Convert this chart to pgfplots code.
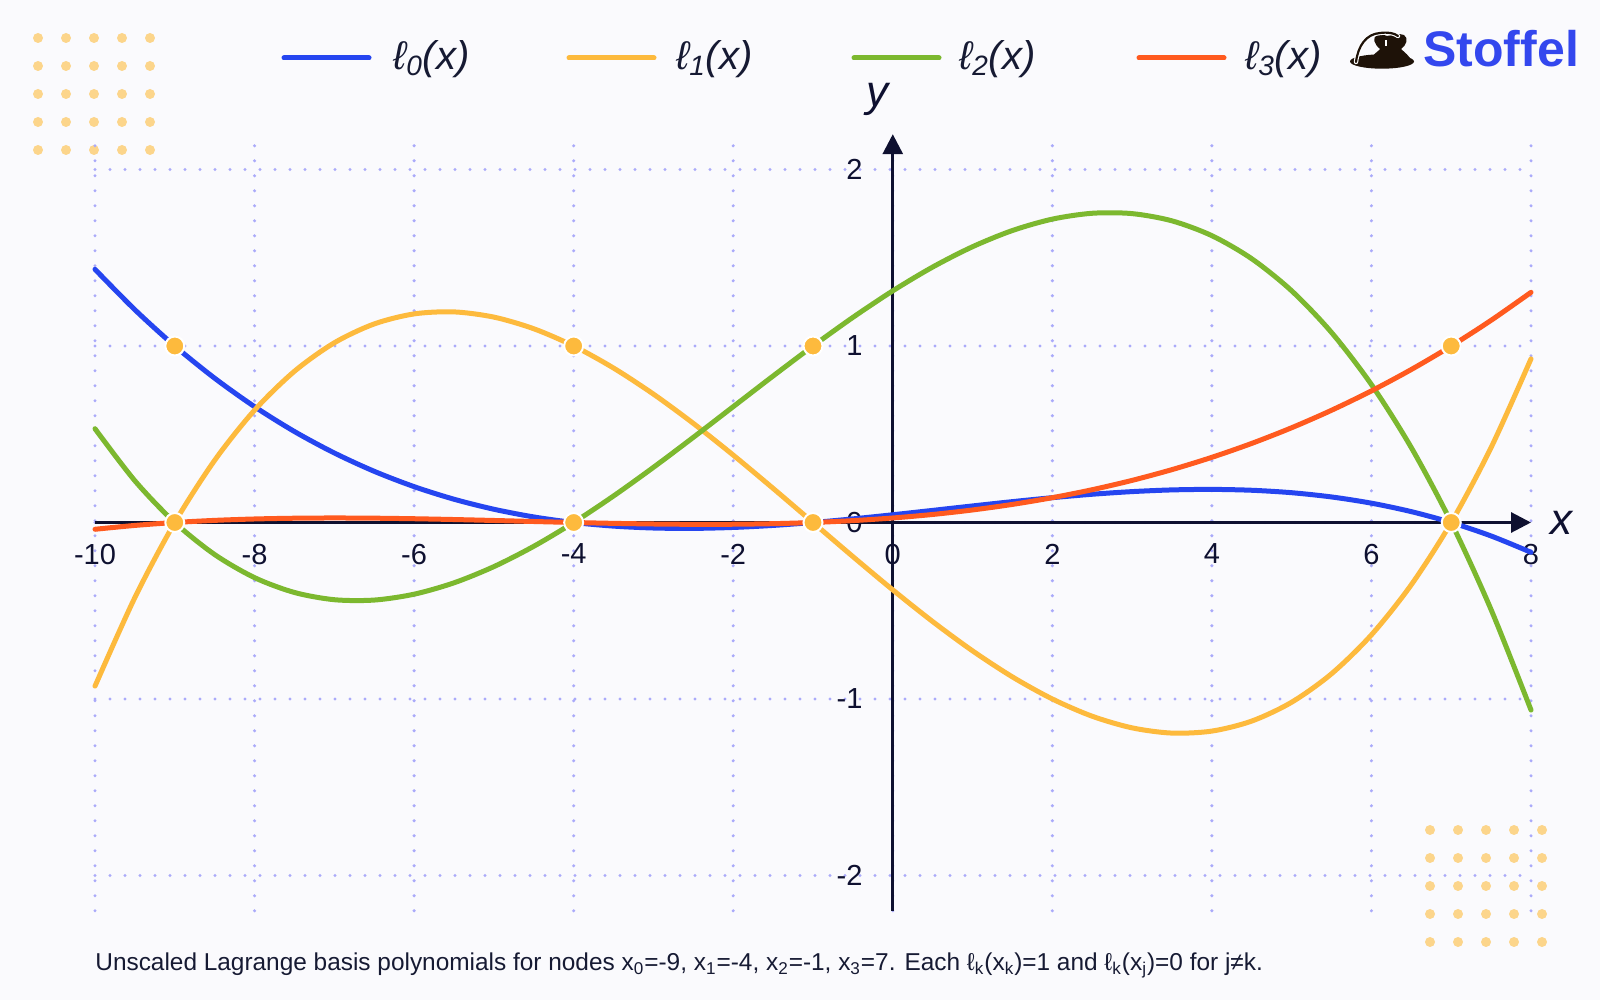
\documentclass[border=0pt]{standalone}
\usepackage{fontspec}
\setmainfont{Liberation Sans}
\usepackage{pgfplots}
\pgfplotsset{compat=1.18}
\usetikzlibrary{arrows.meta}
\definecolor{bgc}{HTML}{FAFAFD}
\definecolor{cblue}{HTML}{2545F0}
\definecolor{cyel}{HTML}{FDBA3D}
\definecolor{cgreen}{HTML}{7CB82F}
\definecolor{cred}{HTML}{FF5A1F}
\definecolor{dotc}{HTML}{FCD58B}
\definecolor{gridc}{HTML}{AAAAFA}
\definecolor{axisc}{HTML}{0E1030}
\definecolor{textc}{HTML}{161A33}
\definecolor{stofc}{HTML}{3347EE}
\definecolor{logoc}{HTML}{1E1208}
\begin{document}
\begin{tikzpicture}
\fill[bgc] (0,0) rectangle (800pt,500pt);
\path[use as bounding box] (0,0) rectangle (800pt,500pt);
\begin{scope}[x=0.5pt,y=-0.5pt,shift={(0pt,500pt)}]
  \foreach \i in {38,66,94,122,150}{\foreach \j in {38,66,94,122,150}{\fill[dotc] (\i,\j) circle[radius=2.5pt];}}
  \foreach \i in {1430,1458,1486,1514,1542}{\foreach \j in {830,858,886,914,942}{\fill[dotc] (\i,\j) circle[radius=2.5pt];}}
\end{scope}
\begin{axis}[
  at={(47.5pt,44.6pt)}, anchor=south west,
  scale only axis, width=718pt, height=388.3pt,
  xmin=-10, xmax=8, ymin=-2.2, ymax=2.2,
  axis lines*=middle,
  axis line style={draw=axisc, line width=1.5pt},
  x axis line style={-{Triangle[length=10pt,width=10pt]}},
  y axis line style={-{Triangle[length=10pt,width=10pt]}},
  xtick={-10,-8,-6,-4,-2,0,2,4,6,8},
  xticklabels={-10,-8,-6,-4,-2,0,2,4,6,8},
  ytick={-2,-1,0,1,2},
  yticklabels={-2,-1,0,1,2},
  major tick length=0pt,
  grid=major,
  major grid style={draw=gridc, line width=1.7pt, dash pattern=on 0pt off 7.5pt, line cap=round},
  ticklabel style={font=\fontsize{14.5}{17}\selectfont, text=axisc},
  xticklabel style={anchor=north, inner sep=0pt, yshift=-10.5pt},
  yticklabel style={anchor=east, inner sep=0pt, xshift=-15pt},
  hide obscured x ticks=false, hide obscured y ticks=false,
  clip=false,
]
\addplot[cblue, line width=2.5pt, smooth, line cap=round, line join=round] coordinates {(-10,1.4344)(-9.5,1.2053)(-9,1)(-8.5,0.8174)(-8,0.6563)(-7.5,0.5154)(-7,0.3938)(-6.5,0.2900)(-6,0.2031)(-5.5,0.1318)(-5,0.075)(-4.5,0.0314)(-4,0)(-3.5,-0.0205)(-3,-0.0313)(-2.5,-0.0334)(-2,-0.0281)(-1.5,-0.0166)(-1,0)(-0.5,0.0205)(0,0.0438)(0.5,0.0686)(1,0.0938)(1.5,0.1182)(2,0.1406)(2.5,0.1600)(3,0.175)(3.5,0.1846)(4,0.1875)(4.5,0.1826)(5,0.1688)(5.5,0.1447)(6,0.1094)(6.5,0.0615)(7,0)(7.5,-0.0764)(8,-0.1688)};
\addplot[cyel, line width=2.5pt, smooth, line cap=round, line join=round] coordinates {(-10,-0.9273)(-9.5,-0.425)(-9,0)(-8.5,0.3523)(-8,0.6364)(-7.5,0.8568)(-7,1.0182)(-6.5,1.125)(-6,1.1818)(-5.5,1.1932)(-5,1.1636)(-4.5,1.0977)(-4,1)(-3.5,0.875)(-3,0.7273)(-2.5,0.5614)(-2,0.3818)(-1.5,0.1932)(-1,0)(-0.5,-0.1932)(0,-0.3818)(0.5,-0.5614)(1,-0.7273)(1.5,-0.875)(2,-1)(2.5,-1.0977)(3,-1.1636)(3.5,-1.1932)(4,-1.1818)(4.5,-1.125)(5,-1.0182)(5.5,-0.8568)(6,-0.6364)(6.5,-0.3523)(7,0)(7.5,0.425)(8,0.9273)};
\addplot[cgreen, line width=2.5pt, smooth, line cap=round, line join=round] coordinates {(-10,0.5313)(-9.5,0.2363)(-9,0)(-8.5,-0.1816)(-8,-0.3125)(-7.5,-0.3965)(-7,-0.4375)(-6.5,-0.4395)(-6,-0.4063)(-5.5,-0.3418)(-5,-0.25)(-4.5,-0.1348)(-4,0)(-3.5,0.1504)(-3,0.3125)(-2.5,0.4824)(-2,0.6563)(-1.5,0.8301)(-1,1)(-0.5,1.1621)(0,1.3125)(0.5,1.4473)(1,1.5625)(1.5,1.6543)(2,1.7188)(2.5,1.7520)(3,1.75)(3.5,1.7090)(4,1.625)(4.5,1.4941)(5,1.3125)(5.5,1.0762)(6,0.7813)(6.5,0.4238)(7,0)(7.5,-0.4941)(8,-1.0625)};
\addplot[cred, line width=2.5pt, smooth, line cap=round, line join=round] coordinates {(-10,-0.0384)(-9.5,-0.0166)(-9,0)(-8.5,0.0120)(-8,0.0199)(-7.5,0.0242)(-7,0.0256)(-6.5,0.0244)(-6,0.0213)(-5.5,0.0168)(-5,0.0114)(-4.5,0.0056)(-4,0)(-3.5,-0.0049)(-3,-0.0085)(-2.5,-0.0104)(-2,-0.0099)(-1.5,-0.0067)(-1,0)(-0.5,0.0106)(0,0.0256)(0.5,0.0455)(1,0.0710)(1.5,0.1025)(2,0.1406)(2.5,0.1858)(3,0.2386)(3.5,0.2996)(4,0.3693)(4.5,0.4482)(5,0.5369)(5.5,0.6359)(6,0.7457)(6.5,0.8669)(7,1)(7.5,1.1455)(8,1.3040)};
\addplot[only marks, mark=*, mark size=4.75pt, mark options={fill=cyel, draw=white, line width=1pt}] coordinates {(-9,1)(-9,0)(-4,1)(-4,0)(-1,1)(-1,0)(7,1)(7,0)};
\node[font=\fontsize{22}{22}\selectfont\itshape, text=axisc] at (axis cs:8,0) [xshift=15pt] {x};
\node[font=\fontsize{22}{22}\selectfont\itshape, text=axisc] at (axis cs:0,2.2) [xshift=-7.5pt, yshift=17.5pt] {y};
\end{axis}
\begin{scope}[x=0.5pt,y=-0.5pt,shift={(0pt,500pt)}]
  \draw[cblue, line width=2.5pt, line cap=round] (284,58) -- (369,58);
  \draw[cyel, line width=2.5pt, line cap=round] (569,58) -- (654,58);
  \draw[cgreen, line width=2.5pt, line cap=round] (854,58) -- (939,58);
  \draw[cred, line width=2.5pt, line cap=round] (1139,58) -- (1224,58);
  \node[anchor=base west, inner sep=0pt, text=textc, font=\fontsize{20}{24}\selectfont\itshape] at (393,69.5) {ℓ\textsubscript{0}(x)};
  \node[anchor=base west, inner sep=0pt, text=textc, font=\fontsize{20}{24}\selectfont\itshape] at (676,69.5) {ℓ\textsubscript{1}(x)};
  \node[anchor=base west, inner sep=0pt, text=textc, font=\fontsize{20}{24}\selectfont\itshape] at (959,69.5) {ℓ\textsubscript{2}(x)};
  \node[anchor=base west, inner sep=0pt, text=textc, font=\fontsize{20}{24}\selectfont\itshape] at (1245,69.5) {ℓ\textsubscript{3}(x)};
  % logo
  \fill[logoc] (1382,61.5) ellipse[x radius=16pt, y radius=3.6pt];
  \fill[logoc] (1369,62) .. controls (1371,55) and (1378,52) .. (1380,49)
     .. controls (1374,44) and (1372,38) .. (1377,35)
     .. controls (1381,33) and (1384,35) .. (1387,36)
     .. controls (1393,35) and (1399,33) .. (1404,35)
     .. controls (1409,38) and (1406,46) .. (1401,49)
     .. controls (1404,52) and (1410,56) .. (1412,62) -- cycle;
  \draw[white, line width=2.2pt, line cap=round] (1356,62) .. controls (1358,46) and (1366,34) .. (1380,33) .. controls (1388,32) and (1394,33) .. (1398,36);
  \draw[logoc, line width=1.1pt, line cap=round] (1356,62) .. controls (1358,46) and (1366,34) .. (1380,33) .. controls (1388,32) and (1394,33) .. (1398,36);
  \fill[white] (1384.5,40) rectangle (1386.5,46);
  \node[anchor=base west, inner sep=0pt, text=stofc, font=\fontsize{25}{28}\selectfont\bfseries] at (1423,67) {Stoffel};
  % caption
  \node[anchor=base west, inner sep=0pt, text=textc, font=\fontsize{12.2}{14}\selectfont] at (95,970.5) {Unscaled Lagrange basis polynomials for nodes x\textsubscript{0}=-9, x\textsubscript{1}=-4, x\textsubscript{2}=-1, x\textsubscript{3}=7. Each ℓ\textsubscript{k}(x\textsubscript{k})=1 and ℓ\textsubscript{k}(x\textsubscript{j})=0 for j≠k.};
\end{scope}
\end{tikzpicture}
\end{document}
